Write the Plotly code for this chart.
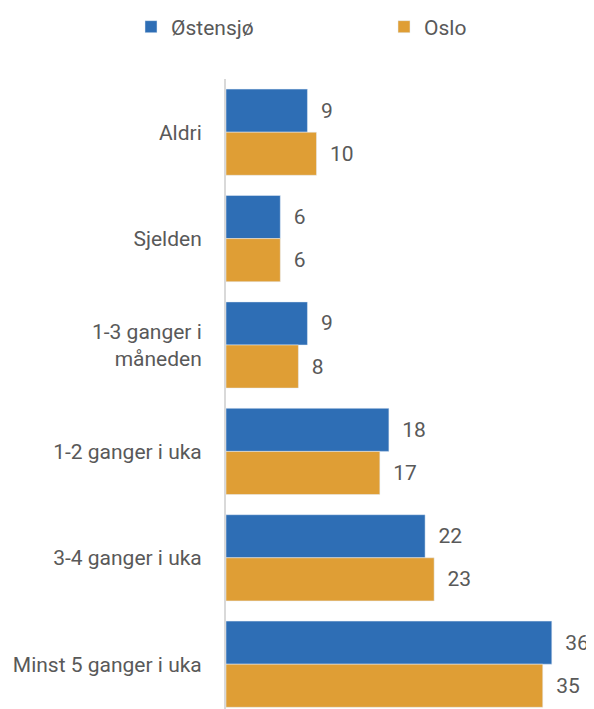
import plotly.graph_objects as go

categories = ["Aldri", "Sjelden", "1-3 ganger i<br>måneden", "1-2 ganger i uka",
              "3-4 ganger i uka", "Minst 5 ganger i uka"]
ostensjo = [9, 6, 9, 18, 22, 36]
oslo = [10, 6, 8, 17, 23, 35]

blue = "#2E6EB5"
orange = "#DF9E35"
grey_txt = "#595959"
fnt = "Roboto"
fs = 21

# the page body has an 8px margin, so the figure starts 8px in
W, H = 586, 701
L, R, T, B = 218, 0, 71, 0
pw, ph = W - L - R, H - T - B
xmax = pw / 9.05             # ~9 px per unit
ybottom = -0.5 + ph / 106.4  # ~106 px per category band

fig = go.Figure()
for name, vals, col, lg in [("Østensjø", ostensjo, blue, "legend"),
                            ("Oslo", oslo, orange, "legend2")]:
    fig.add_trace(go.Bar(y=categories, x=vals, name=name, orientation="h",
                         marker_color=col, text=vals, legend=lg,
                         texttemplate="\u00a0\u00a0%{x}", textposition="outside",
                         cliponaxis=False, constraintext="none",
                         textfont=dict(size=fs, color=grey_txt, family=fnt)))

leg = dict(orientation="h", xref="container", yref="container",
           xanchor="left", yanchor="middle", y=1 - 19 / H,
           font=dict(size=fs, color=grey_txt, family=fnt))

fig.update_layout(
    width=W, height=H,
    barmode="group", bargap=0.19, bargroupgap=0,
    plot_bgcolor="white", paper_bgcolor="white",
    margin=dict(l=L, r=R, t=T, b=B),
    font=dict(family=fnt, size=fs, color=grey_txt),
    legend=dict(leg, x=123 / W),
    legend2=dict(leg, x=376 / W),
    showlegend=True,
)
fig.update_xaxes(range=[0, xmax], showticklabels=False, showgrid=False,
                 zeroline=False, showline=False)
fig.update_yaxes(categoryorder="array", categoryarray=categories,
                 range=[ybottom, -0.5], showgrid=False, zeroline=False,
                 showline=True, linecolor="#D9D9D9", linewidth=2,
                 ticks="", ticklabelstandoff=18,
                 tickfont=dict(size=fs, color=grey_txt, family=fnt))

fig.write_html("out.html")
